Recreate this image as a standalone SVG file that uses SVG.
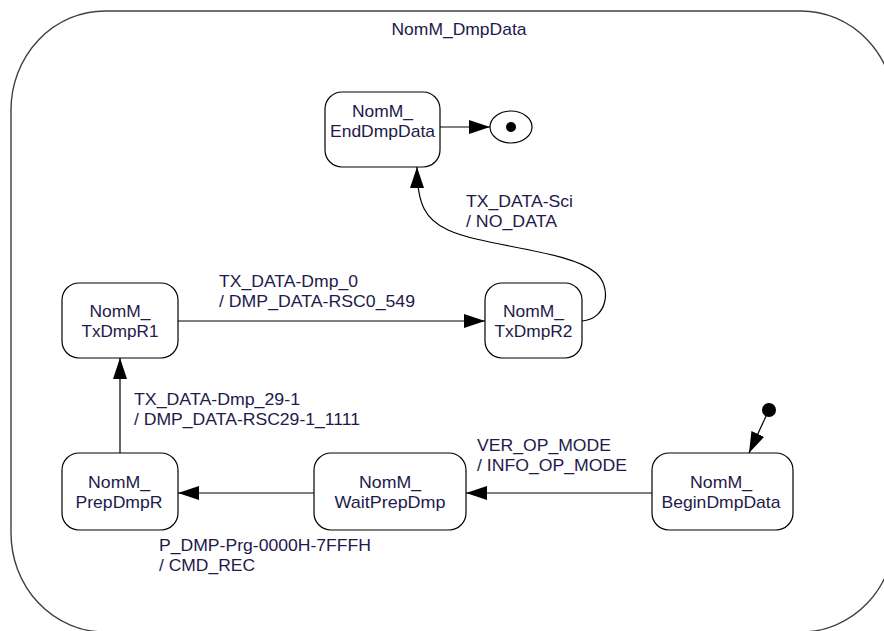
<svg xmlns="http://www.w3.org/2000/svg" width="884" height="631" viewBox="0 0 884 631">
<defs>
<marker id="ah" markerUnits="userSpaceOnUse" markerWidth="22" markerHeight="14" refX="21" refY="7" orient="auto">
<path d="M0,0 L21,7 L0,14 z" fill="#000"/>
</marker>
<style>
.box{fill:#fff;stroke:#000;stroke-width:1.2}
.t{font-family:"Liberation Sans",Arial,sans-serif;font-size:17px;fill:#1e1a4a}
.c{text-anchor:middle}
.e{fill:none;stroke:#000;stroke-width:1.2}
</style>
</defs>
<rect width="884" height="631" fill="#fff"/>
<g id="NomM_DmpData">
<rect x="11" y="11" width="884" height="621" rx="94" ry="99" fill="none" stroke="#404040" stroke-width="1.4"/>
<text class="t c" x="459" y="35" textLength="135" lengthAdjust="spacingAndGlyphs">NomM_DmpData</text>
</g>
<g id="connectors">
<line class="e" x1="440" y1="127" x2="490" y2="127" marker-end="url(#ah)"/>
<line class="e" x1="178" y1="321" x2="485" y2="321" marker-end="url(#ah)"/>
<path class="e" d="M582,321 C608,319 612,287 596,273 C570,250 485,247 448,230 C426,220 417,205 417,167" marker-end="url(#ah)"/>
<line class="e" x1="120" y1="453" x2="120" y2="358" marker-end="url(#ah)"/>
<line class="e" x1="314" y1="493" x2="178" y2="493" marker-end="url(#ah)"/>
<line class="e" x1="652" y1="493" x2="466" y2="493" marker-end="url(#ah)"/>
<line class="e" x1="767" y1="414" x2="749" y2="453" marker-end="url(#ah)"/>
</g>
<g id="labels">
<text class="t" x="219" y="287" textLength="139" lengthAdjust="spacingAndGlyphs">TX_DATA-Dmp_0</text>
<text class="t" x="219" y="307" textLength="196" lengthAdjust="spacingAndGlyphs">/ DMP_DATA-RSC0_549</text>
<text class="t" x="466" y="207" textLength="107" lengthAdjust="spacingAndGlyphs">TX_DATA-Sci</text>
<text class="t" x="466" y="227" textLength="91" lengthAdjust="spacingAndGlyphs">/ NO_DATA</text>
<text class="t" x="134" y="405" textLength="166" lengthAdjust="spacingAndGlyphs">TX_DATA-Dmp_29-1</text>
<text class="t" x="134" y="425" textLength="226" lengthAdjust="spacingAndGlyphs">/ DMP_DATA-RSC29-1_1111</text>
<text class="t" x="159" y="551" textLength="212" lengthAdjust="spacingAndGlyphs">P_DMP-Prg-0000H-7FFFH</text>
<text class="t" x="159" y="571" textLength="96" lengthAdjust="spacingAndGlyphs">/ CMD_REC</text>
<text class="t" x="477" y="451" textLength="134" lengthAdjust="spacingAndGlyphs">VER_OP_MODE</text>
<text class="t" x="477" y="471" textLength="150" lengthAdjust="spacingAndGlyphs">/ INFO_OP_MODE</text>
</g>
<g id="EndDmpData">
<rect class="box" x="325" y="92" width="115" height="75" rx="17"/>
<text class="t c" x="382.5" y="117" textLength="61" lengthAdjust="spacingAndGlyphs">NomM_</text>
<text class="t c" x="382.5" y="137" textLength="105" lengthAdjust="spacingAndGlyphs">EndDmpData</text>
</g>
<g id="final">
<ellipse cx="511" cy="127" rx="21" ry="16" fill="#fff" stroke="#000" stroke-width="1.2"/>
<circle cx="511" cy="127" r="5" fill="#000"/>
</g>
<g id="TxDmpR1">
<rect class="box" x="62" y="283" width="116" height="75" rx="17"/>
<text class="t c" x="120" y="317" textLength="61" lengthAdjust="spacingAndGlyphs">NomM_</text>
<text class="t c" x="120" y="337" textLength="77" lengthAdjust="spacingAndGlyphs">TxDmpR1</text>
</g>
<g id="TxDmpR2">
<rect class="box" x="485" y="283" width="97" height="75" rx="17"/>
<text class="t c" x="533.5" y="317" textLength="61" lengthAdjust="spacingAndGlyphs">NomM_</text>
<text class="t c" x="533.5" y="337" textLength="78" lengthAdjust="spacingAndGlyphs">TxDmpR2</text>
</g>
<g id="PrepDmpR">
<rect class="box" x="62" y="453" width="116" height="77" rx="17"/>
<text class="t c" x="119" y="488" textLength="62" lengthAdjust="spacingAndGlyphs">NomM_</text>
<text class="t c" x="119" y="508" textLength="87" lengthAdjust="spacingAndGlyphs">PrepDmpR</text>
</g>
<g id="WaitPrepDmp">
<rect class="box" x="314" y="453" width="152" height="77" rx="17"/>
<text class="t c" x="390" y="488" textLength="62" lengthAdjust="spacingAndGlyphs">NomM_</text>
<text class="t c" x="390" y="508" textLength="111" lengthAdjust="spacingAndGlyphs">WaitPrepDmp</text>
</g>
<g id="BeginDmpData">
<rect class="box" x="652" y="453" width="141" height="77" rx="17"/>
<text class="t c" x="721" y="488" textLength="62" lengthAdjust="spacingAndGlyphs">NomM_</text>
<text class="t c" x="721" y="508" textLength="119" lengthAdjust="spacingAndGlyphs">BeginDmpData</text>
</g>
<g id="initial">
<circle cx="769" cy="410" r="7" fill="#000"/>
</g>
</svg>
